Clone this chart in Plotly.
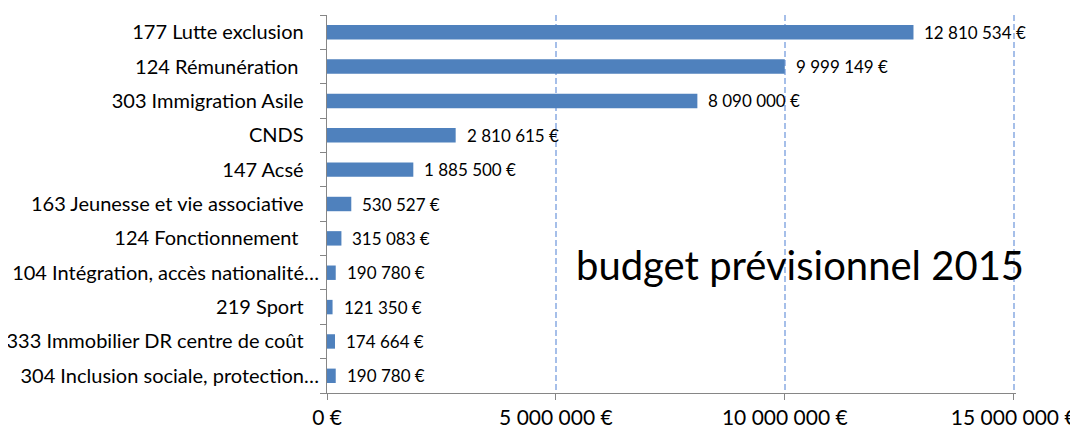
import plotly.graph_objects as go

categories = [
    "177 Lutte exclusion",
    "124 Rémunération ",
    "303 Immigration Asile",
    "CNDS",
    "147 Acsé",
    "163 Jeunesse et vie associative",
    "124 Fonctionnement ",
    "104 Intégration, accès nationalité…",
    "219 Sport",
    "333 Immobilier DR centre de coût",
    "304 Inclusion sociale, protection…",
]
budget = [12810534, 9999149, 8090000, 2810615, 1885500, 530527, 315083, 190780, 121350, 174664, 190780]
x_ticks = [0, 5000000, 10000000, 15000000]
x_tick_labels = ["0 €", "5 000 000 €", "10 000 000 €", "15 000 000 €"]

FONT = "Lato, Calibri, sans-serif"
BAR_COLOR = "#4F81BD"
AXIS_COLOR = "#868686"

# Excel pushes the truncated labels right up to the axis, the others keep a gap
y_tick_labels = [
    c.replace(" ", "\u00a0") if c.endswith("…") else (c.rstrip() + "\u00a0" * (4 if c.endswith(" ") else 3)).replace(" ", "\u00a0")
    for c in categories
]

fig = go.Figure(
    go.Bar(
        x=budget,
        y=categories,
        orientation="h",
        marker=dict(color=BAR_COLOR, line=dict(width=0)),
        width=0.42,
        hoverinfo="x+y",
    )
)

# value labels next to each bar
for cat, val in zip(categories, budget):
    fig.add_annotation(
        x=val, y=cat, text=f"{val:,}".replace(",", " ") + " €",
        xanchor="left", xshift=9, showarrow=False,
        font=dict(family=FONT, size=17, color="#000000"),
    )

fig.add_annotation(
    x=0.686, y=0.339, xref="paper", yref="paper",
    xanchor="center", yanchor="middle",
    text="budget prévisionnel 2015", showarrow=False,
    font=dict(family=FONT, size=40, color="#000000"),
)

# the page body adds an 8px margin, so the figure is 8px smaller than the window
fig.update_layout(
    width=1070,
    height=422,
    margin=dict(l=319, r=62, t=7, b=37),
    paper_bgcolor="white",
    plot_bgcolor="white",
    showlegend=False,
    font=dict(family=FONT, color="#000000"),
)
fig.update_xaxes(
    range=[0, 15050000],  # a little past 15M so the last dashed gridline is drawn
    tickvals=x_ticks,
    ticktext=x_tick_labels,
    tickfont=dict(size=21),
    ticks="outside",
    ticklen=6,
    tickcolor=AXIS_COLOR,
    showline=True,
    linecolor=AXIS_COLOR,
    showgrid=True,
    gridcolor="#A6BFE9",
    griddash="6px,3px",
    gridwidth=1.5,
    zeroline=False,
    automargin=False,
    fixedrange=True,
)
fig.update_yaxes(
    autorange="reversed",
    tickson="boundaries",
    tickvals=categories,
    ticktext=y_tick_labels,
    ticks="outside",
    ticklen=6,
    tickcolor=AXIS_COLOR,
    tickfont=dict(size=20),
    ticklabelstandoff=3,
    showline=True,
    linecolor=AXIS_COLOR,
    showgrid=False,
    zeroline=False,
    automargin=False,
    fixedrange=True,
)

fig.write_html("out.html")
